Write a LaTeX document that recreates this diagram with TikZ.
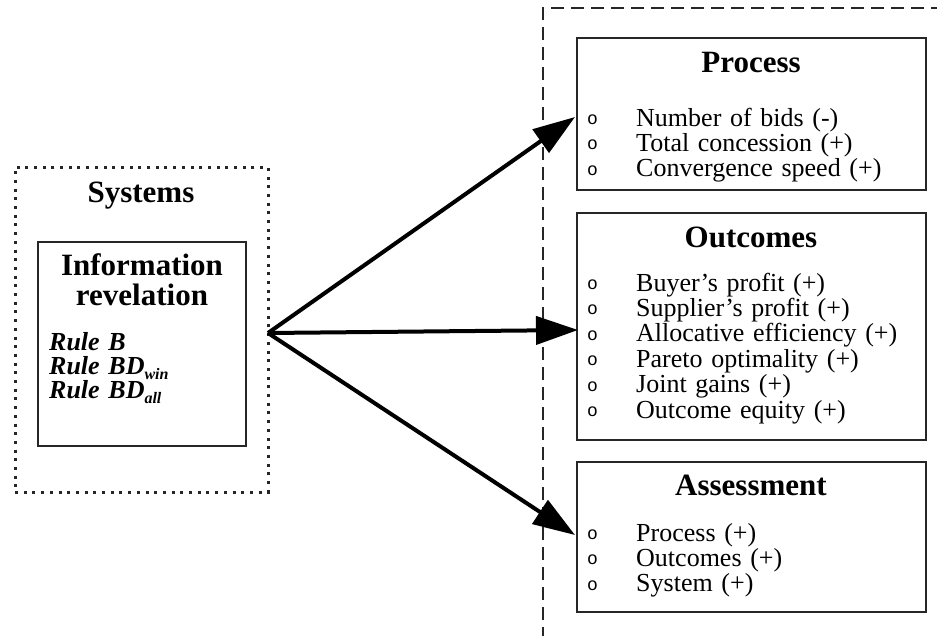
\documentclass[tikz,border=0pt]{standalone}
\usepackage{fontspec}
\setmainfont{Liberation Serif}
\newfontfamily\bulletfont{Liberation Mono}
\usetikzlibrary{arrows.meta}

% hollow list bullet followed by the indent up to the item text
\newcommand\itembullet{\makebox[49pt][l]{\raisebox{1.5pt}{\bulletfont\fontsize{18}{18}\selectfont o}}}
% small bold-italic lowered index
\newcommand\ruleidx[1]{\raisebox{-5pt}{\fontsize{16}{16}\selectfont\bfseries\itshape #1}}

\begin{document}
\begin{tikzpicture}[x=1pt,y=-1pt,
  panel/.style={draw=black!85, line width=1.4pt, inner sep=0pt},
  dotframe/.style={draw=black!85, line width=3pt, dash pattern=on 3pt off 5.7pt, inner sep=0pt},
  boundary/.style={draw=black!85, line width=1.4pt, dash pattern=on 13pt off 7pt},
  heading/.style={font=\fontsize{31}{30}\selectfont\bfseries, anchor=base, inner sep=0pt, align=center},
  itemlist/.style={font=\fontsize{26}{25.4}\selectfont, anchor=base west, inner sep=0pt,
                   text width=335pt, align=left},
  rulelist/.style={font=\fontsize{26}{24}\selectfont\bfseries\itshape, anchor=base west,
                   inner sep=0pt, text width=190pt, align=left},
  bigarrow/.style={draw=black, line width=4pt, -{Triangle[length=42pt,width=28pt]}},
]
\useasboundingbox (0,0) rectangle (937,635);
\fill[white] (0,0) rectangle (937,635);

% left side: systems frame and the information revelation panel
\node[dotframe, minimum width=253pt, minimum height=325pt] (systems) at (141.5,329.5) {};
\node[heading] (systems-title) at (141,202) {Systems};
\node[panel, minimum width=208pt, minimum height=204pt] (inforev) at (142,344) {};
\node[heading, text width=200pt] (inforev-title) at (142,275) {Information\\revelation};
\node[rulelist] (rules) at (49,350)
  {Rule B\\ Rule BD\ruleidx{win}\\ Rule BD\ruleidx{all}};

% right side: dashed boundary around the measures
\coordinate (bnd-bottom) at (543,640);
\coordinate (bnd-corner) at (543,8);
\coordinate (bnd-right) at (945,8);
\draw[boundary] (bnd-bottom) -- (bnd-corner) -- (bnd-right);

% Process
\node[panel, minimum width=349pt, minimum height=152pt] (proc) at (751.5,114) {};
\node[heading] (proc-title) at (751,72) {Process};
\node[itemlist] (proc-items) at (587,126)
  {\itembullet Number of bids (-)\\
   \itembullet Total concession (+)\\
   \itembullet Convergence speed (+)};

% Outcomes
\node[panel, minimum width=349pt, minimum height=227pt] (outc) at (751.5,326.5) {};
\node[heading] (outc-title) at (751,247) {Outcomes};
\node[itemlist] (outc-items) at (587,291)
  {\itembullet Buyer’s profit (+)\\
   \itembullet Supplier’s profit (+)\\
   \itembullet Allocative efficiency (+)\\
   \itembullet Pareto optimality (+)\\
   \itembullet Joint gains (+)\\
   \itembullet Outcome equity (+)};

% Assessment
\node[panel, minimum width=349pt, minimum height=150pt] (assess) at (751.5,537) {};
\node[heading] (assess-title) at (751,495) {Assessment};
\node[itemlist] (assess-items) at (587,541)
  {\itembullet Process (+)\\
   \itembullet Outcomes (+)\\
   \itembullet System (+)};

% effects of the system on the three groups of measures
\coordinate (src) at (268,333);
\coordinate (proc-in) at (575,117);
\coordinate (outc-in) at (578,330);
\coordinate (assess-in) at (575,535);
\draw[bigarrow] (src) -- (proc-in);
\draw[bigarrow] (src) -- (outc-in);
\draw[bigarrow] (src) -- (assess-in);
\end{tikzpicture}
\end{document}
